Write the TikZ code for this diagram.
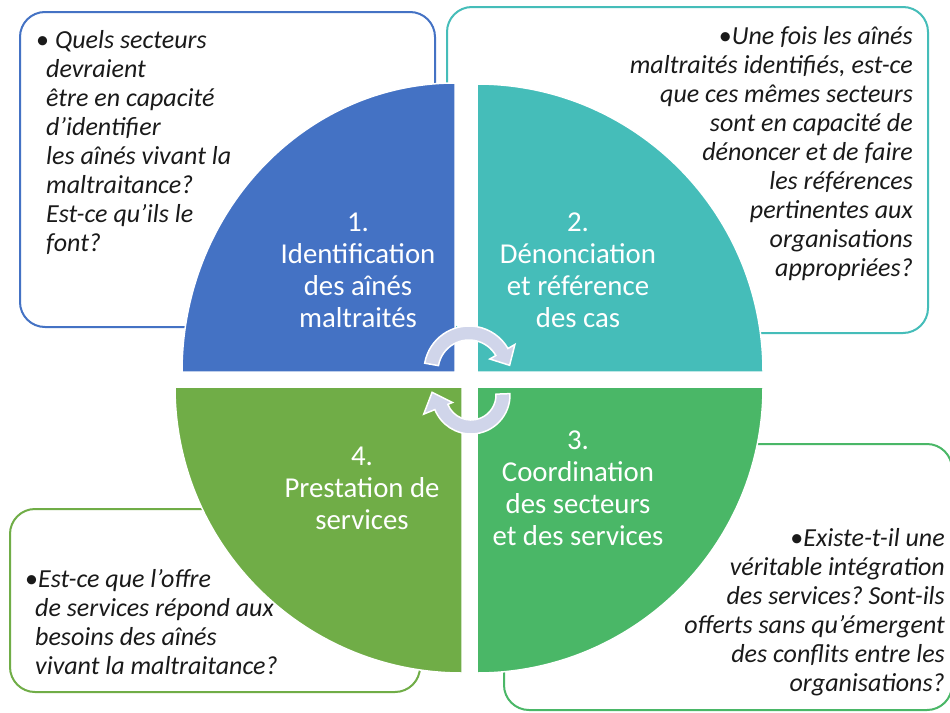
\documentclass[tikz,border=0pt]{standalone}
\usepackage{fontspec}
\setmainfont{Carlito}
\usetikzlibrary{calc}
\frenchspacing
\definecolor{qblue}{HTML}{4472C4}
\definecolor{qteal}{HTML}{45BDB9}
\definecolor{qgreen}{HTML}{4AB767}
\definecolor{qolive}{HTML}{70AD47}
\definecolor{arrowfill}{HTML}{D0D5EA}
\definecolor{ink}{HTML}{1A1A1A}
\begin{document}
\begin{tikzpicture}[x=1pt,y=-1pt]
\tikzset{
  qbox/.style={draw, line width=2pt, rounded corners=25pt, fill=white},
  qtext/.style={font=\fontsize{26}{29}\selectfont\itshape, inner sep=0pt, text=ink},
  quad/.style={draw=white, line width=1.5pt},
  qlabel/.style={font=\fontsize{28.8}{32}\selectfont, text=white, align=center, inner sep=0pt},
  cyc/.style={fill=arrowfill, draw=white, line width=1.5pt, line join=miter},
}
\useasboundingbox (0,0) rectangle (950,712);
\fill[white] (0,0) rectangle (950,712);

% question boxes
\draw[qbox, draw=qblue] (20,12) rectangle (435,327);
\draw[qbox, draw=qteal] (447,7) rectangle (928,333);
\draw[qbox, draw=qolive] (10,509) rectangle (420,692);
\draw[qbox, draw=qgreen] (504,444) rectangle (952,710);

% box texts
\node[qtext, anchor=north west, align=left] (t1) at (36,30)
  {{\upshape•} Quels secteurs\\
   \hspace*{10pt}devraient\\
   \hspace*{10pt}être en capacité\\
   \hspace*{10pt}d’identifier\\
   \hspace*{10pt}les aînés vivant la\\
   \hspace*{10pt}maltraitance?\\
   \hspace*{10pt}Est-ce qu’ils le\\
   \hspace*{10pt}font?};
\node[qtext, anchor=north east, align=right] (t2) at (913,26)
  {{\upshape•}Une fois les aînés\\
   maltraités identifiés, est-ce\\
   que ces mêmes secteurs\\
   sont en capacité de\\
   dénoncer et de faire\\
   les références\\
   pertinentes aux\\
   organisations\\
   appropriées?};
\node[qtext, anchor=north west, align=left] (t3) at (25,569)
  {{\upshape•}Est-ce que l’offre\\
   \hspace*{10pt}de services répond aux\\
   \hspace*{10pt}besoins des aînés\\
   \hspace*{10pt}vivant la maltraitance?};
\node[qtext, anchor=north east, align=right] (t4) at (945,528)
  {{\upshape•}Existe-t-il une\\
   véritable intégration\\
   des services? Sont-ils\\
   offerts sans qu’émergent\\
   des conflits entre les\\
   organisations?};

% quadrants
\path[quad, fill=qblue] (455,372) -- (455,83) arc[start angle=-90, end angle=-180, x radius=273, y radius=289] -- cycle;
\path[quad, fill=qteal] (477,372) -- (477,84) arc[start angle=-90, end angle=0, x radius=286, y radius=288] -- cycle;
\path[quad, fill=qgreen] (477,387) -- (763,387) arc[start angle=0, end angle=90, radius=286] -- cycle;
\path[quad, fill=qolive] (462,387) -- (462,673) arc[start angle=90, end angle=180, x radius=287, y radius=286] -- cycle;

% quadrant labels
\node[qlabel] (q1) at (358,270) {1.\\Identification\\des aînés\\maltraités};
\node[qlabel] (q2) at (578,270) {2.\\Dénonciation\\et référence\\des cas};
\node[qlabel] (q3) at (578,488) {3.\\Coordination\\des secteurs\\et des services};
\node[qlabel] (q4) at (362,488) {4.\\Prestation de\\services};

% circular arrows
\coordinate (c1) at (469,371);
\coordinate (c2) at (471,395);
\path[cyc] ($(c1)+(-170:45)$) arc[start angle=-170, end angle=-30, radius=45]
  -- ($(c1)+(-30:53)$) -- ($(c1)+(-8:41)$) -- ($(c1)+(-30:24)$) -- ($(c1)+(-30:31)$)
  arc[start angle=-30, end angle=-170, radius=31] -- cycle;
\path[cyc] ($(c2)+(-2:39)$) arc[start angle=-2, end angle=158, radius=39]
  -- ($(c2)+(158:51)$) -- ($(c2)+(184:39)$) -- ($(c2)+(158:20)$) -- ($(c2)+(158:25)$)
  arc[start angle=158, end angle=-2, radius=25] -- cycle;
\end{tikzpicture}
\end{document}
